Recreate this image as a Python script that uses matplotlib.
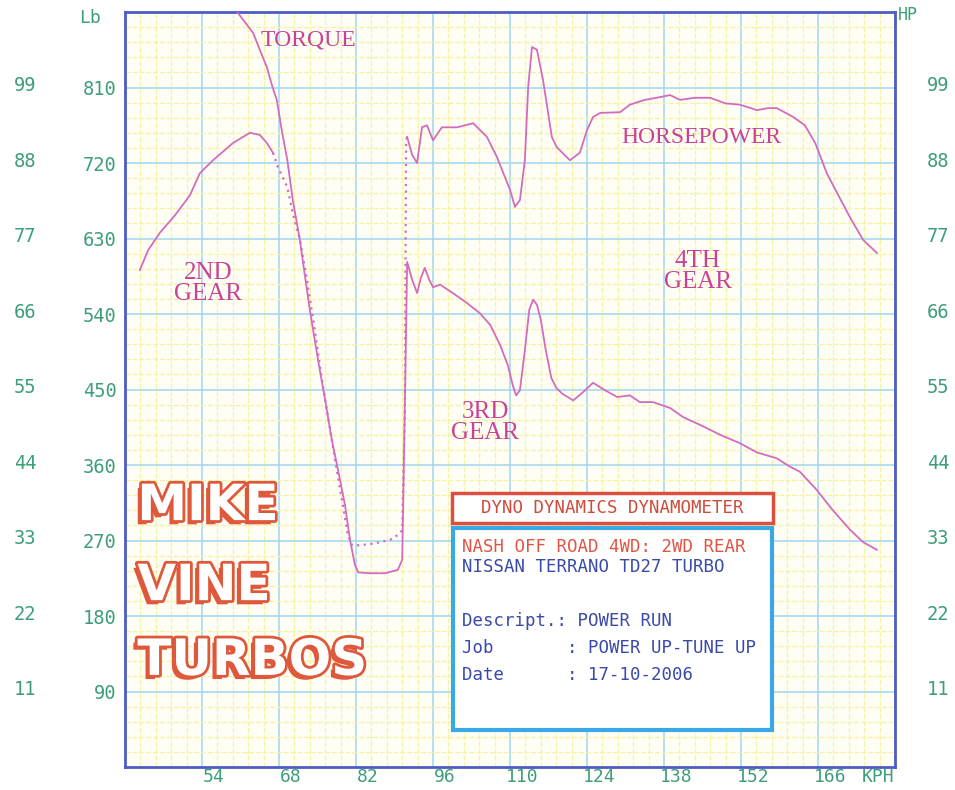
import numpy as np
import matplotlib
matplotlib.use("Agg")
import matplotlib.pyplot as plt
from matplotlib import patheffects as pe
from matplotlib.patches import Rectangle
from matplotlib.ticker import FixedLocator, MultipleLocator
from matplotlib.transforms import ScaledTranslation

# ---- data (kph, Lb / HP) ----
kph_ticks = [54, 68, 82, 96, 110, 124, 138, 152, 166]
lb_ticks = [90, 180, 270, 360, 450, 540, 630, 720, 810]
hp_ticks = [11, 22, 33, 44, 55, 66, 77, 88, 99]

# horsepower, 2nd gear (solid)
hp_kph_2nd = [42.7, 44.2, 46.4, 49.1, 51.8, 53.6, 56.0, 59.6, 62.7, 64.5, 65.8, 66.9]
hp_2nd = [72.4, 75.3, 77.9, 80.4, 83.3, 86.5, 88.4, 90.9, 92.4, 92.1, 90.9, 89.5]

# horsepower, shift 2nd -> 3rd (dotted)
hp_kph_shift = [66.9, 67.8, 69.5, 70.5, 71.8, 73.1, 74.5, 75.8, 77.3, 78.5, 79.6, 80.5,
                81.3, 82.7, 85.5, 88.2, 89.6, 90.4, 90.9, 91.1, 91.3]
hp_shift = [89.5, 87.4, 84.5, 80.7, 76.8, 70.9, 63.7, 56.4, 49.1, 43.3, 38.2, 33.8,
            32.3, 32.3, 32.6, 33.1, 33.8, 34.5, 53.5, 91.3, 91.8]

# horsepower, 3rd and 4th gear
hp_kph_34 = [91.3, 92.2, 93.1, 94.0, 94.9, 96.0, 97.6, 100.4, 103.3, 105.8, 107.6, 110.0,
             110.9, 111.8, 112.7, 113.3, 114.0, 114.9, 116.0, 117.6, 118.5, 120.9, 122.7,
             124.0, 125.1, 126.4, 130.0, 131.8, 134.5, 137.3, 139.1, 140.9, 143.6, 146.4,
             149.1, 151.8, 154.9, 156.9, 158.5, 161.5, 163.6, 165.5, 167.6, 169.5, 171.8,
             174.2, 176.7]
hp_34 = [91.8, 89.2, 88.0, 93.2, 93.5, 91.3, 93.2, 93.2, 93.8, 91.8, 88.9, 84.1,
         81.6, 82.6, 88.4, 99.1, 104.9, 104.5, 100.1, 91.8, 90.3, 88.4, 89.5,
         92.8, 94.7, 95.3, 95.4, 96.5, 97.2, 97.6, 97.9, 97.2, 97.5, 97.5,
         96.7, 96.5, 95.7, 96.0, 96.0, 94.7, 93.5, 90.9, 86.5, 83.6, 80.1,
         76.8, 74.9]

# torque, whole run
tq_kph = [59.6, 60.4, 61.8, 63.3, 64.5, 65.8, 66.7, 67.6, 68.5, 69.5, 70.5, 71.8, 72.7,
          73.6, 75.1, 76.4, 77.6, 79.1, 80.0, 80.9, 81.8, 82.4, 84.5, 87.3, 89.6, 90.4,
          90.9, 91.3, 92.2, 93.1, 93.8, 94.5, 95.3, 96.0, 97.3, 99.6, 102.2, 104.5, 106.4,
          108.2, 109.6, 110.5, 111.1, 111.8, 112.7, 113.5, 114.2, 114.9, 115.6, 116.5,
          117.5, 118.4, 119.5, 121.5, 123.3, 125.1, 127.3, 129.5, 131.8, 133.6, 136.0,
          139.1, 141.5, 144.5, 148.2, 151.8, 154.9, 158.5, 160.9, 162.7, 165.8, 168.7,
          171.8, 174.2, 176.7]
tq_lb = [915, 900, 888, 875, 855, 834, 813, 795, 759, 724, 676, 628, 586,
         545, 485, 437, 390, 342, 312, 271, 241, 232, 231, 231, 235, 247,
         437, 602, 581, 565, 583, 595, 581, 572, 575, 565, 553, 541, 527,
         503, 479, 455, 443, 449, 497, 545, 557, 551, 533, 497,
         464, 452, 445, 437, 447, 458, 449, 441, 443, 435, 435,
         428, 417, 408, 396, 386, 375, 368, 358, 352, 330, 306,
         283, 268, 259]

# ---- styling ----
curve = "#d26cc0"
label_pink = "#c8429a"
tick_green = "#3e9e78"
frame_blue = "#4d5cc4"
grid_blue = "#9fd6f0"
grid_yellow = "#f6f2a4"
logo_red = "#e0583c"
mono = "DejaVu Sans Mono"

fig = plt.figure(figsize=(9.55, 7.9), dpi=100)
ax = fig.add_axes([0.1309, 0.0291, 0.8063, 0.9557])
ax.set_facecolor("#fffef4")
ax.set_xlim(40, 180)
ax.set_ylim(0, 900)

ax.set_xticks(kph_ticks)
ax.set_xticklabels([str(v) for v in kph_ticks])
ax.set_yticks(lb_ticks)
ax.set_yticklabels([str(v) for v in lb_ticks])
ax.xaxis.set_minor_locator(FixedLocator(np.arange(40, 180.1, 2.8)))
ax.yaxis.set_minor_locator(MultipleLocator(18))
ax.grid(which="minor", color=grid_yellow, lw=0.9, ls=(0, (4, 1.5)), zorder=0)
ax.grid(which="major", color=grid_blue, lw=1.1, zorder=0.5)
ax.set_axisbelow(True)
ax.tick_params(which="both", length=0)
ax.tick_params(axis="x", pad=1, labelsize=13, labelcolor=tick_green)
ax.tick_params(axis="y", pad=6, labelsize=13.5, labelcolor=tick_green)
for lab in ax.get_xticklabels() + ax.get_yticklabels():
    lab.set_fontfamily(mono)
off = ScaledTranslation(0.12, 0, fig.dpi_scale_trans)
for lab in ax.get_xticklabels():
    lab.set_transform(lab.get_transform() + off)
for sp in ax.spines.values():
    sp.set_color(frame_blue)
    sp.set_linewidth(2)

# horsepower on its own scale
ax2 = ax.twinx()
ax2.set_ylim(0, 110)
ax2.set_yticks(hp_ticks)
ax2.set_yticklabels([str(v) for v in hp_ticks])
ax2.tick_params(length=0, pad=23, labelsize=13.5, labelcolor=tick_green)
up = ScaledTranslation(0, 0.04, fig.dpi_scale_trans)
for lab in ax2.get_yticklabels():
    lab.set_fontfamily(mono)
    lab.set_transform(lab.get_transform() + up)
for sp in ax2.spines.values():
    sp.set_visible(False)

# far left HP column
sec = ax.secondary_yaxis(-0.115, functions=(lambda v: v * 11 / 90, lambda v: v * 90 / 11))
sec.set_yticks(hp_ticks)
sec.set_yticklabels([str(v) for v in hp_ticks])
sec.tick_params(length=0, pad=0, labelsize=13.5, labelcolor=tick_green)
sec.spines["left"].set_visible(False)
for lab in sec.get_yticklabels():
    lab.set_fontfamily(mono)
    lab.set_transform(lab.get_transform() + up)

# curves
ax.plot(tq_kph, tq_lb, color=curve, lw=1.3, clip_on=True, zorder=3)
ax2.plot(hp_kph_2nd, hp_2nd, color=curve, lw=1.3, zorder=3)
ax2.plot(hp_kph_shift, hp_shift, color=curve, lw=1.6, ls=(0, (1, 2)), zorder=3)
ax2.plot(hp_kph_34, hp_34, color=curve, lw=1.3, zorder=3)

# curve labels
serif = "Liberation Serif"
ax.text(0.238, 0.963, "TORQUE", transform=ax.transAxes, color=label_pink,
        fontsize=17, family=serif, ha="center", va="center")
ax.text(0.748, 0.834, "HORSEPOWER", transform=ax.transAxes, color=label_pink,
        fontsize=17, family=serif, ha="center", va="center")
ax.text(0.108, 0.640, "2ND\nGEAR", transform=ax.transAxes, color=label_pink,
        fontsize=18, family=serif, ha="center", va="center", linespacing=0.95)
ax.text(0.468, 0.456, "3RD\nGEAR", transform=ax.transAxes, color=label_pink,
        fontsize=18, family=serif, ha="center", va="center", linespacing=0.95)
ax.text(0.744, 0.656, "4TH\nGEAR", transform=ax.transAxes, color=label_pink,
        fontsize=18, family=serif, ha="center", va="center", linespacing=0.95)

# axis unit labels
fig.text(90 / 955, 1 - 18 / 790, "Lb", color=tick_green, fontsize=13,
         family=mono, ha="center", va="center")
fig.text(898 / 955, 1 - 15 / 790, "HP", color=tick_green, fontsize=12,
         family=mono, ha="left", va="center")
fig.text(878 / 955, 1 - 777 / 790, "KPH", color=tick_green, fontsize=13,
         family=mono, ha="center", va="center")

# info boxes
ax.add_patch(Rectangle((0.4247, 0.3232), 0.4169, 0.0397, transform=ax.transAxes,
                       facecolor="white", edgecolor="#dc4e40", lw=2.5, zorder=5))
ax.text(0.6325, 0.343, "DYNO DYNAMICS DYNAMOMETER", transform=ax.transAxes,
        color="#d04a3a", fontsize=12.5, family=mono, ha="center",
        va="center", zorder=6)
ax.add_patch(Rectangle((0.426, 0.049), 0.414, 0.2676, transform=ax.transAxes,
                       facecolor="white", edgecolor="#3aa8e4", lw=3, zorder=5))
info = [
    ("NASH OFF ROAD 4WD: 2WD REAR", 0.2914, "#e05545"),
    ("NISSAN TERRANO TD27 TURBO", 0.2649, "#3a4aa8"),
    ("Descript.: POWER RUN", 0.1934, "#3a4aa8"),
    ("Job       : POWER UP-TUNE UP", 0.1576, "#3a4aa8"),
    ("Date      : 17-10-2006", 0.1219, "#3a4aa8"),
]
for txt, yy, col in info:
    ax.text(0.4377, yy, txt, transform=ax.transAxes, color=col, fontsize=12.5,
            family=mono, ha="left", va="center", zorder=6)

# logo
logo_fx = [pe.SimplePatchShadow(offset=(-3, -3), shadow_rgbFace=logo_red, alpha=1),
           pe.Stroke(linewidth=4, foreground=logo_red), pe.Normal()]
for word, yy in [("MIKE", 0.327), ("VINE", 0.221), ("TURBOS", 0.122)]:
    ax.text(0.016, yy, word, transform=ax.transAxes, color="white", fontsize=36,
            family="DejaVu Sans", weight="bold", ha="left", va="baseline",
            path_effects=logo_fx, zorder=4)

fig.savefig("out.png", dpi=100)
